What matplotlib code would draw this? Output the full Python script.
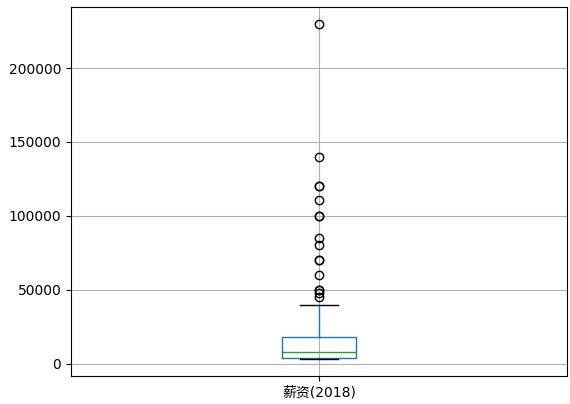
import matplotlib
matplotlib.use("Agg")
import matplotlib.pyplot as plt  # noqa

plt.rcParams['font.family'] = ['DejaVu Sans', 'Noto Sans CJK SC']

# box statistics
label = '薪资(2018)'
q1 = 3500
median = 7800
q3 = 18300
whisker_low = 3000
whisker_high = 40000
fliers = [230000, 140000, 120000, 120000, 111000, 100000, 100000, 85000,
          80000, 70000, 70000, 60000, 50000, 50000, 48000, 45000]

stats = [dict(label=label, q1=q1, med=median, q3=q3,
              whislo=whisker_low, whishi=whisker_high, fliers=fliers)]

fig = plt.figure(figsize=(5.7, 4.04), dpi=100)
ax = fig.add_axes([0.1246, 0.0693, 0.8701, 0.9134])
ax.bxp(stats, positions=[1], widths=0.15,
       boxprops=dict(color='#1f77b4'),
       whiskerprops=dict(color='#1f77b4'),
       medianprops=dict(color='#2ca02c'),
       capprops=dict(color='k'),
       flierprops=dict(marker='o', markeredgecolor='k',
                       markerfacecolor='none', markersize=6))
ax.set_xlim(0.5, 1.5)
ax.grid(True)
ax.tick_params(labelsize=10)

fig.savefig('out.png', dpi=100)
